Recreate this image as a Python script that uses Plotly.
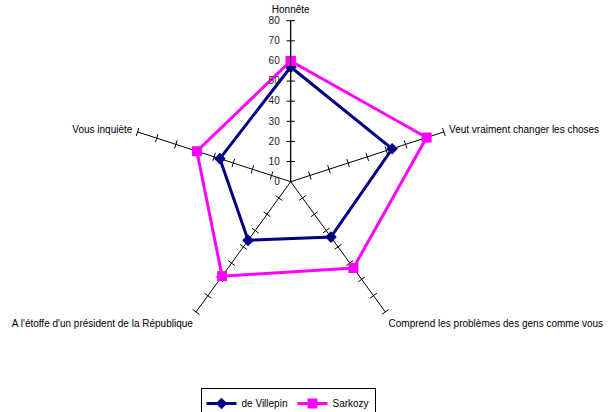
import plotly.graph_objects as go

# Survey criteria (clockwise from the top) and scores per candidate
criteria = [
    "Honnête",
    "Veut vraiment changer les choses",
    "Comprend les problèmes des gens comme vous",
    "A l'étoffe d'un président de la République",
    "Vous inquiète",
]
villepin = [57, 53, 34, 36, 37]
sarkozy = [60, 71, 53, 58, 49]

radial_ticks = [0, 10, 20, 30, 40, 50, 60, 70, 80]

FONT = "Liberation Sans, Arial, sans-serif"

fig = go.Figure()

# Small cross ticks along every spoke (perpendicular to the spoke)
tick_theta, tick_r, tick_angle = [], [], []
for i, c in enumerate(criteria):
    for v in radial_ticks[1:]:
        tick_theta.append(c)
        tick_r.append(v)
        tick_angle.append(72 * i)
fig.add_trace(go.Scatterpolar(
    r=tick_r, theta=tick_theta, mode="markers",
    marker=dict(symbol="line-ew", size=6, angle=tick_angle,
                line=dict(color="black", width=1)),
    showlegend=False, hoverinfo="skip",
))

fig.add_trace(go.Scatterpolar(
    r=villepin + villepin[:1], theta=criteria + criteria[:1],
    mode="lines+markers", name="de Villepin",
    line=dict(color="#000080", width=3),
    marker=dict(symbol="diamond", size=9, color="#000080"),
))
fig.add_trace(go.Scatterpolar(
    r=sarkozy + sarkozy[:1], theta=criteria + criteria[:1],
    mode="lines+markers", name="Sarkozy",
    line=dict(color="#FF00FF", width=3),
    marker=dict(symbol="square", size=10, color="#FF00FF"),
))

W, H = 608, 412
cx, cy, rad = 290.7, 181.7, 161
fig.update_layout(
    width=W, height=H,
    margin=dict(l=0, r=0, t=0, b=0, autoexpand=False),
    paper_bgcolor="white",
    font=dict(family=FONT, size=10, color="black"),
    polar=dict(
        domain=dict(x=[(cx - rad) / W, (cx + rad) / W],
                    y=[(H - cy - rad) / H, (H - cy + rad) / H]),
        bgcolor="white",
        gridshape="linear",
        radialaxis=dict(
            range=[0, 80], tickvals=radial_ticks, angle=90,
            tickangle=90, side="counterclockwise",
            showgrid=False, showline=True, linecolor="black", linewidth=1,
            ticks="outside", ticklen=7, tickcolor="rgba(0,0,0,0)",
            tickfont=dict(family=FONT, size=10, color="#222"),
        ),
        angularaxis=dict(
            direction="clockwise", rotation=90,
            showline=False, showgrid=True, gridcolor="black", gridwidth=1,
            ticks="outside", ticklen=3, tickcolor="rgba(0,0,0,0)",
            tickfont=dict(family=FONT, size=10, color="black"),
        ),
    ),
    legend=dict(
        orientation="h", x=288 / W, xanchor="center", y=(H - 388) / H, yanchor="top",
        bordercolor="black", borderwidth=1, bgcolor="white",
        font=dict(family=FONT, size=10, color="black"),
        tracegroupgap=0,
    ),
)

fig.write_html("out.html")
